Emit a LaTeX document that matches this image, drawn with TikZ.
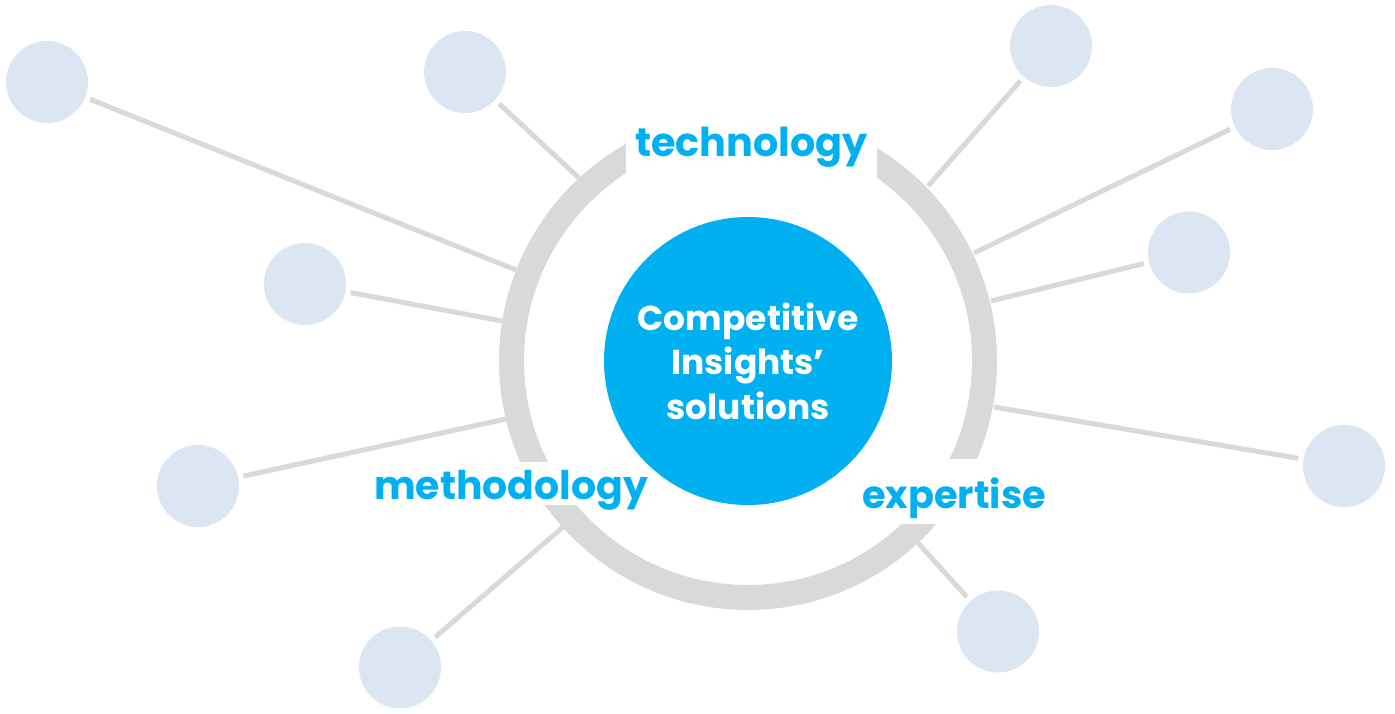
\documentclass[tikz,border=0pt]{standalone}
\usepackage{fontspec}
\usepackage{graphicx}
\setmainfont{Poppins}
\definecolor{cyanb}{HTML}{00B0F0}
\definecolor{dotc}{HTML}{DCE6F2}
\definecolor{ringc}{HTML}{D9D9D9}
\begin{document}
\begin{tikzpicture}[x=1pt,y=-1pt,
  dot/.style={circle,fill=dotc,minimum size=82pt,inner sep=0pt,outer sep=5.5pt},
  spoke/.style={draw=ringc,line width=5pt},
  lbl/.style={fill=white,text=cyanb,font=\bfseries\fontsize{40}{48}\selectfont,inner ysep=0pt,inner xsep=8pt,anchor=base}]
\useasboundingbox (0,0) rectangle (1395,714);
% satellite dots
\node[dot] (d1) at (47,82) {};
\node[dot] (d2) at (465,72) {};
\node[dot] (d3) at (1051,46) {};
\node[dot] (d4) at (1272,109) {};
\node[dot] (d5) at (305,284) {};
\node[dot] (d6) at (1189,252.5) {};
\node[dot] (d7) at (198,486) {};
\node[dot] (d8) at (1344,466) {};
\node[dot] (d9) at (400,667.5) {};
\node[dot] (d10) at (998,631.5) {};
% points on the ring
\coordinate (e1) at (516,270);
\coordinate (e2) at (579,178);
\coordinate (e3) at (928,186);
\coordinate (e4) at (974,253);
\coordinate (e5) at (502,321);
\coordinate (e6) at (991,301);
\coordinate (e7) at (506,419);
\coordinate (e8) at (994,407);
\coordinate (e9) at (563,527);
\coordinate (e10) at (918,543);
\foreach \i in {1,...,10} {\draw[spoke] (d\i) -- (e\i);}
% ring
\coordinate (ctr) at (748,361);
\draw[ringc,line width=25pt] (ctr) circle[radius=236.5pt];
% labels (white boxes cut the ring)
\node[lbl,text height=47pt,text depth=25pt,inner xsep=9pt] (tech) at (751.5,157) {\resizebox{233pt}{!}{technology}};
\node[lbl,text height=37pt,text depth=6pt] (meth) at (511,499) {\resizebox{274pt}{!}{methodology}};
\node[lbl,text height=49pt,text depth=16pt] (expe) at (954,508) {\resizebox{184pt}{!}{expertise}};
% core
\node[circle,fill=cyanb,minimum size=288pt,inner sep=0pt,text=white,align=center,
  font=\bfseries\fontsize{34.5}{44.5}\selectfont] (core) at (ctr) {Competitive\\Insights’\\solutions};
\end{tikzpicture}
\end{document}
